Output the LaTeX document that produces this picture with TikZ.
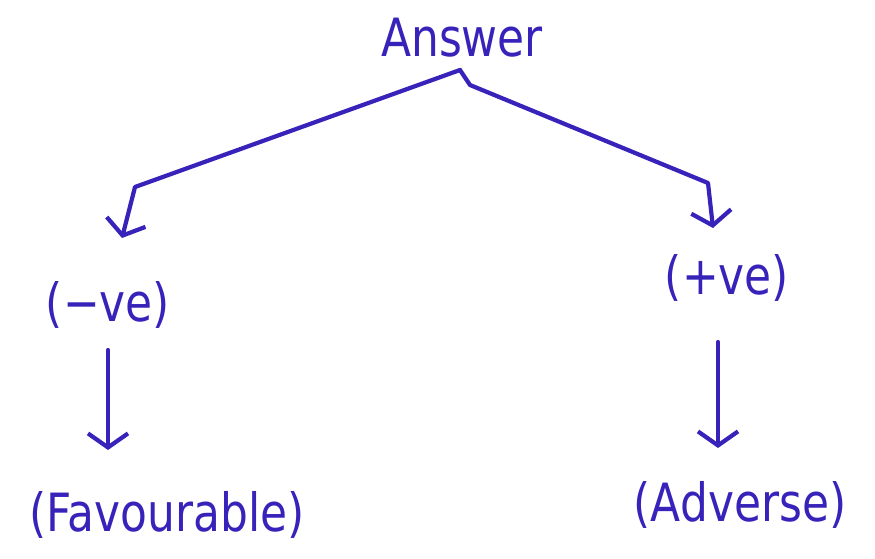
\documentclass[tikz,border=0pt]{standalone}
\usepackage{fontspec}
\setmainfont{DejaVu Sans}
\usetikzlibrary{arrows.meta}
\definecolor{ink}{RGB}{55,35,185}
% stretched hand-lettering look
\newcommand\tallword[1]{\scalebox{1}[1.2]{#1}}
\tikzset{
  lbl/.style={text=ink, font=\fontsize{25}{28}\selectfont, inner sep=2pt},
  link/.style={draw=ink, line width=2.4pt, line cap=round, line join=round,
    -{Straight Barb[length=2.8mm, width=8mm, line width=2.4pt]}}
}
\begin{document}
\begin{tikzpicture}[x=0.02cm, y=-0.02cm]
  \useasboundingbox (0,0) rectangle (875,558);
  % labels
  \node[lbl] (ans) at (462,38) {\tallword{Answer}};
  \node[lbl] (neg) at (108,305) {\tallword{(−ve)}};
  \node[lbl] (pos) at (727,278) {\tallword{(+ve)}};
  \node[lbl] (fav) at (167,515) {\tallword{(Favourable)}};
  \node[lbl] (adv) at (740,505) {\tallword{(Adverse)}};
  % bends and ends of the connectors
  \coordinate (top) at (460,70);
  \coordinate (lbend) at (135,187);
  \coordinate (rbend) at (470,85);
  \coordinate (rbend2) at (708,183);
  \coordinate (ltip) at (122,238);
  \coordinate (rtip) at (713,228);
  \coordinate (negfoot) at (108,350);
  \coordinate (favtip) at (108,450);
  \coordinate (posfoot) at (718,342);
  \coordinate (advtip) at (718,448);
  % branches from the answer
  \draw[link] (top) -- (lbend) -- (ltip);
  \draw[link] (top) -- (rbend) -- (rbend2) -- (rtip);
  % downward arrows
  \draw[link] (negfoot) -- (favtip);
  \draw[link] (posfoot) -- (advtip);
\end{tikzpicture}
\end{document}
